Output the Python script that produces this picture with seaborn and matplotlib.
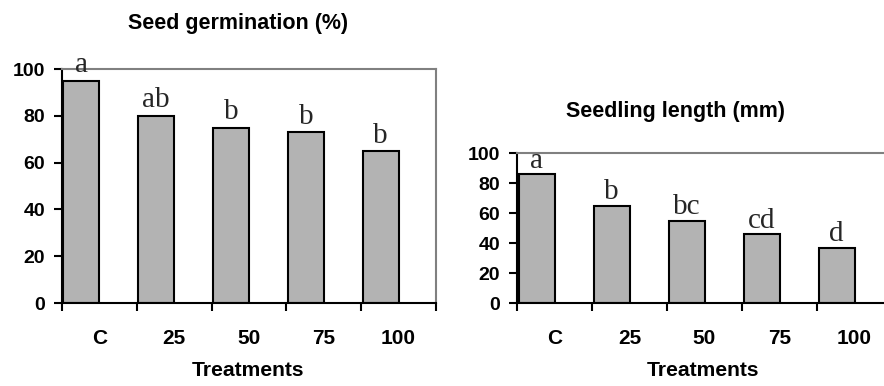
import numpy as np
import pandas as pd
import matplotlib
matplotlib.use("Agg")
import matplotlib.pyplot as plt
import seaborn as sns

# ---- data ----
treatments = ["C", "25", "50", "75", "100"]
germination = [95, 80, 75, 73, 65]
germination_letters = ["a", "ab", "b", "b", "b"]
seedling_length = [86, 65, 55, 46, 37]
length_letters = ["a", "b", "bc", "cd", "d"]
y_ticks = [0, 20, 40, 60, 80, 100]

sns.set_theme(style="ticks")
plt.rcParams["font.family"] = ["Liberation Sans", "DejaVu Sans"]

fig = plt.figure(figsize=(8.84, 3.86), dpi=100)
W, H = 884, 386
ax1 = fig.add_axes([62 / W, 1 - 303 / H, 374 / W, 234 / H])
ax2 = fig.add_axes([517 / W, 1 - 303 / H, 375 / W, 150 / H])


def draw(ax, values, letters, offset):
    obs = pd.DataFrame({"Treatment": treatments, "Value": values, "series": "obs"})
    pad = pd.DataFrame({"Treatment": treatments, "Value": np.nan, "series": "pad"})
    df = pd.concat([obs, pad], ignore_index=True)
    sns.barplot(data=df, x="Treatment", y="Value", hue="series",
                hue_order=["obs", "pad"], order=treatments,
                palette={"obs": "#b3b3b3", "pad": "white"},
                width=0.96, edgecolor="black", linewidth=1.5,
                saturation=1, legend=False, ax=ax, zorder=2, errorbar=None)
    ax.set_xlim(-0.5, 4.5)
    ax.set_ylim(0, 100)
    bars = ax.containers[0]
    for bar, letter in zip(bars, letters):
        ax.annotate(letter, (bar.get_x() + bar.get_width() / 2, bar.get_height()),
                    xytext=(0, offset), textcoords="offset points",
                    ha="center", va="baseline", fontsize=21,
                    fontfamily=["Liberation Serif", "DejaVu Serif"],
                    annotation_clip=False, zorder=5)
    # ticks
    ax.set_xticks(np.arange(-0.5, 5, 1))
    ax.set_xticklabels([])
    ax.set_xticks(range(len(treatments)), minor=True)
    ax.set_xticklabels(treatments, minor=True)
    ax.tick_params(axis="x", which="major", length=6, width=1.5, color="black",
                   direction="out", labelbottom=False, bottom=True)
    ax.tick_params(axis="x", which="minor", length=0, pad=19, labelsize=15)
    ax.set_yticks(y_ticks)
    ax.set_yticklabels([str(v) for v in y_ticks])
    ax.tick_params(axis="y", length=6, width=1.5, color="black", direction="out",
                   pad=6, labelsize=14, left=True)
    for lbl in ax.get_xticklabels(minor=True) + ax.get_yticklabels():
        lbl.set_fontweight("bold")
        lbl.set_color("black")
    ax.set_xlabel("")
    ax.set_ylabel("")
    for side in ("left", "bottom"):
        ax.spines[side].set_color("black")
        ax.spines[side].set_linewidth(1.5)
    for side in ("top", "right"):
        ax.spines[side].set_visible(True)
        ax.spines[side].set_color("#808080")
        ax.spines[side].set_linewidth(1.5)
    ax.set_facecolor("white")


draw(ax1, germination, germination_letters, 6)
draw(ax2, seedling_length, length_letters, 4.5)

fig.text(238.5 / W, 1 - 23 / H, "Seed germination (%)", ha="center", va="center",
         fontsize=15.5, fontweight="bold", color="black")
fig.text(675 / W, 1 - 112 / H, "Seedling length (mm)", ha="center", va="center",
         fontsize=15.5, fontweight="bold", color="black")
fig.text(248 / W, 1 - 370 / H, "Treatments", ha="center", va="center",
         fontsize=15.2, fontweight="bold", color="black")
fig.text(703 / W, 1 - 370 / H, "Treatments", ha="center", va="center",
         fontsize=15.2, fontweight="bold", color="black")

fig.savefig("out.png", dpi=100, facecolor="white")
